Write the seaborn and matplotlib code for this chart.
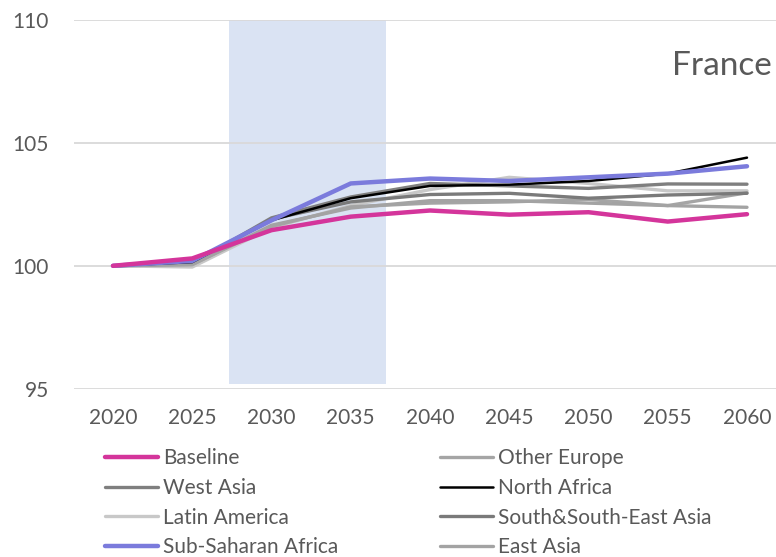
import numpy as np
import pandas as pd
import matplotlib
matplotlib.use("Agg")
import matplotlib.pyplot as plt
import seaborn as sns

# Datos (indice 2020 = 100)
years = [2020, 2025, 2030, 2035, 2040, 2045, 2050, 2055, 2060]
baseline = [100, 100.3, 101.45, 102.0, 102.25, 102.08, 102.18, 101.8, 102.1]
other_europe = [100, 100.05, 101.6, 102.4, 102.55, 102.6, 102.7, 102.45, 102.97]
west_asia = [100, 100.1, 101.95, 102.8, 103.35, 103.25, 103.15, 103.33, 103.32]
north_africa = [100, 100.15, 101.85, 102.75, 103.25, 103.3, 103.45, 103.75, 104.4]
latin_america = [100, 99.95, 101.55, 102.45, 103.1, 103.6, 103.35, 103.05, 103.05]
south_asia = [100, 100.1, 101.9, 102.6, 102.9, 102.95, 102.75, 102.88, 102.95]
subsaharan = [100, 100.2, 101.85, 103.35, 103.55, 103.45, 103.6, 103.75, 104.05]
east_asia = [100, 100.05, 101.65, 102.35, 102.65, 102.65, 102.55, 102.45, 102.38]

series = [
    ("Baseline", baseline, "#D4359B", 3.2, 6),
    ("Other Europe", other_europe, "#A5A5A5", 2.4, 3),
    ("West Asia", west_asia, "#7F7F7F", 2.4, 3),
    ("North Africa", north_africa, "#000000", 1.8, 4),
    ("Latin America", latin_america, "#C8C8C8", 2.4, 2),
    ("South&South-East Asia", south_asia, "#7A7A7A", 2.4, 3),
    ("Sub-Saharan Africa", subsaharan, "#7B7BDC", 3.2, 5),
    ("East Asia", east_asia, "#A3A3A3", 2.4, 3),
]

sns.set_style("white")
plt.rcParams['font.family'] = ['Lato', 'DejaVu Sans']

fig = plt.figure(figsize=(7.76, 5.57), dpi=100)
ax = fig.add_axes([74 / 776, 1 - 388.7 / 557, 1 - 74 / 776, (388.7 - 20) / 557])

# Banda sombreada ~2027-2037
ax.fill_between([2027.3, 2037.25], 95.2, 110.15, color="#DAE3F3", lw=0, zorder=0.5)

for name, vals, col, lw, z in series:
    df = pd.DataFrame({"Year": years, "Value": vals})
    sns.lineplot(data=df, x="Year", y="Value", color=col, lw=lw, label=name,
                 ax=ax, zorder=z, solid_capstyle="round", solid_joinstyle="round")

ax.set_xlim(2017.54, 2061.83)
ax.set_ylim(95, 110)
ax.set_yticks([95, 100, 105, 110])
ax.set_xticks(years)
ax.set_xlabel("")
ax.set_ylabel("")
ax.grid(axis="y", color="#D9D9D9", lw=1.3)
ax.set_axisbelow(True)
for s in ax.spines.values():
    s.set_visible(False)
ax.tick_params(axis="both", length=0, labelsize=15, colors="#595959")
ax.tick_params(axis="y", pad=18)
ax.tick_params(axis="x", pad=14)

ax.text(0.994, 0.875, "France", transform=ax.transAxes, ha="right", va="center",
        fontsize=24, color="#595959")

# leyenda en dos columnas, orden por filas como en Excel
handles, labels = ax.get_legend_handles_labels()
order = [0, 2, 4, 6, 1, 3, 5, 7]
ax.legend([handles[i] for i in order], [labels[i] for i in order],
          ncol=2, loc="upper left", bbox_to_anchor=(105 / 776, 1 - 448 / 557),
          bbox_transform=fig.transFigure, frameon=False, fontsize=15,
          labelcolor="#595959", handlelength=2.55, handletextpad=0.25,
          labelspacing=0.47, columnspacing=4.85, borderaxespad=0, borderpad=0)

fig.savefig("out.png", dpi=100)
